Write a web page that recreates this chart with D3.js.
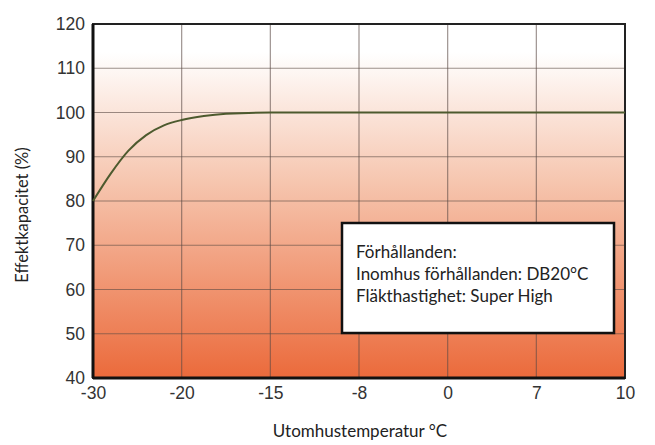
<!DOCTYPE html>
<html>
<head>
<meta charset="utf-8">
<script src="https://cdn.jsdelivr.net/npm/d3@7"></script>
<style>
  body { margin: 0; background: #fff; }
</style>
</head>
<body>
<div id="chart-area"></div>
<script>
// x categories are evenly spaced, not to scale
const xLabels = ["-30", "-20", "-15", "-8", "0", "7", "10"]
const yTicks = [40, 50, 60, 70, 80, 90, 100, 110, 120]

// curve: position along category axis, capacity %
const curvePos = [0, 0.2, 0.4, 0.6, 0.8, 1, 1.25, 1.5, 2, 3, 4, 5, 6]
const curveVal = [80, 86.2, 91.4, 94.9, 97.1, 98.3, 99.2, 99.7, 100, 100, 100, 100, 100]

const notes = ["Förhållanden:", "Inomhus förhållanden: DB20°C", "Fläkthastighet: Super High"]

const MARGIN = { LEFT: 93, RIGHT: 30, TOP: 24, BOTTOM: 67 }
const WIDTH = 655 - MARGIN.LEFT - MARGIN.RIGHT
const HEIGHT = 445 - MARGIN.TOP - MARGIN.BOTTOM

const svg = d3.select("#chart-area").append("svg")
  .attr("width", 655)
  .attr("height", 445)

const defs = svg.append("defs")
const grad = defs.append("linearGradient")
  .attr("id", "bg").attr("x1", 0).attr("y1", 0).attr("x2", 0).attr("y2", 1)
grad.append("stop").attr("offset", "0.08").attr("stop-color", "#ffffff")
grad.append("stop").attr("offset", "0.45").attr("stop-color", "#f6c5ae")
grad.append("stop").attr("offset", "1").attr("stop-color", "#eb6a3b")

const g = svg.append("g")
  .attr("transform", `translate(${MARGIN.LEFT}, ${MARGIN.TOP})`)

const xScale = d3.scaleLinear().domain([0, xLabels.length - 1]).range([0, WIDTH])
const yScale = d3.scaleLinear().domain([40, 120]).range([HEIGHT, 0])

g.append("rect")
  .attr("width", WIDTH).attr("height", HEIGHT)
  .attr("fill", "url(#bg)")

// grid
g.append("g").selectAll("line")
  .data(yTicks.slice(1, -1))
  .enter().append("line")
  .attr("x1", 0).attr("x2", WIDTH)
  .attr("y1", d => yScale(d)).attr("y2", d => yScale(d))
  .attr("stroke", "#5a4a44").attr("stroke-opacity", 0.6).attr("stroke-width", 1.2)

g.append("g").selectAll("line")
  .data(d3.range(1, xLabels.length - 1))
  .enter().append("line")
  .attr("y1", 0).attr("y2", HEIGHT)
  .attr("x1", d => xScale(d)).attr("x2", d => xScale(d))
  .attr("stroke", "#5a4a44").attr("stroke-opacity", 0.6).attr("stroke-width", 1.2)

// axes
const xAxis = g.append("g")
  .attr("transform", "translate(0," + HEIGHT + ")")
  .call(d3.axisBottom(xScale).tickValues(d3.range(xLabels.length))
    .tickFormat(i => xLabels[i]).tickSize(0).tickPadding(9))
const yAxis = g.append("g")
  .call(d3.axisLeft(yScale).tickValues(yTicks).tickSize(0).tickPadding(8))

for (const ax of [xAxis, yAxis]) {
  ax.select(".domain").remove()
  ax.selectAll("text")
    .attr("font-family", "Liberation Sans, Arial, sans-serif")
    .attr("font-size", 17.5).attr("fill", "#333")
}

// frame
g.append("rect")
  .attr("width", WIDTH).attr("height", HEIGHT)
  .attr("fill", "none").attr("stroke", "#222").attr("stroke-width", 2)
g.append("line").attr("x1", 0).attr("x2", 0).attr("y1", 0).attr("y2", HEIGHT)
  .attr("stroke", "#111").attr("stroke-width", 3)
g.append("line").attr("x1", 0).attr("x2", WIDTH).attr("y1", HEIGHT).attr("y2", HEIGHT)
  .attr("stroke", "#111").attr("stroke-width", 3)

// curve
const lineGenerator = d3.line()
  .x(i => xScale(curvePos[i]))
  .y(i => yScale(curveVal[i]))
  .curve(d3.curveMonotoneX)

g.append("path")
  .datum(d3.range(curvePos.length))
  .attr("fill", "none")
  .attr("stroke", "#4d5a2e")
  .attr("stroke-width", 2)
  .attr("d", lineGenerator)

// note box
const box = g.append("g").attr("transform", "translate(249, 199)")
box.append("rect")
  .attr("width", 272).attr("height", 110)
  .attr("fill", "#fff").attr("stroke", "#111").attr("stroke-width", 2.5)
box.selectAll("text")
  .data(notes)
  .enter().append("text")
  .attr("x", 14).attr("y", (d, i) => 35 + i * 22)
  .attr("font-family", "Lato, sans-serif").attr("font-size", 17)
  .attr("fill", "#222")
  .text(d => d)

// titles
svg.append("text")
  .attr("x", 360).attr("y", 437)
  .attr("text-anchor", "middle")
  .attr("font-family", "Lato, sans-serif").attr("font-size", 17).attr("fill", "#222")
  .text("Utomhustemperatur °C")

svg.append("text")
  .attr("transform", "translate(28, 215) rotate(-90)")
  .attr("text-anchor", "middle")
  .attr("font-family", "Lato, sans-serif").attr("font-size", 16.5).attr("fill", "#222")
  .text("Effektkapacitet (%)")
</script>
</body>
</html>
